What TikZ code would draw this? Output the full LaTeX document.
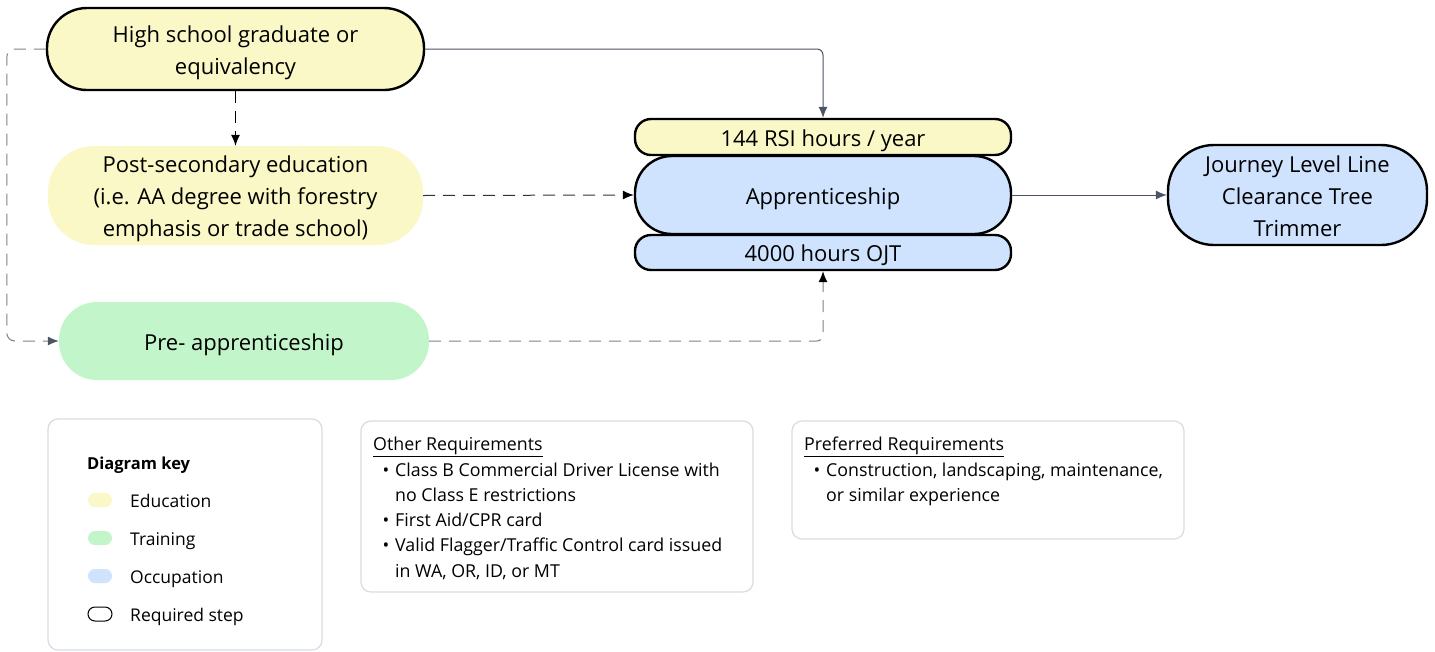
\documentclass[tikz,border=0pt]{standalone}
\usepackage{fontspec}
\setmainfont{Open Sans}
\usetikzlibrary{arrows.meta}
\definecolor{edu}{HTML}{FAF8C6}
\definecolor{trn}{HTML}{C2F5CA}
\definecolor{occ}{HTML}{CFE2FE}
\definecolor{arr}{HTML}{4B5563}
\definecolor{dashlight}{HTML}{7C828C}
\definecolor{keyline}{HTML}{D8DCE2}
\newcommand\bul{\makebox[22pt][r]{\textbullet\hspace{6pt}}}
\newcommand\ind{\hspace*{22pt}}
\newcommand\steplines[1]{\raisebox{-3pt}[\height][\depth]{\begin{tabular}{@{}c@{}}#1\end{tabular}}}
\begin{document}
\begin{tikzpicture}[x=1pt,y=-1pt,
  stepnode/.style={inner sep=0pt, align=center, font=\fontsize{22}{32}\selectfont},
  req/.style={stepnode, draw=black, line width=2.4pt},
  solidarrow/.style={draw=arr, line width=1pt, -{Latex[length=11pt,width=9pt]}},
  dasharrow/.style={draw=#1, line width=1pt, dash pattern=on 12pt off 8pt},
  tipblack/.style={-{Latex[length=11pt,width=9pt,fill=black,color=black]}},
  tipgray/.style={-{Latex[length=11pt,width=9pt,fill=arr,color=arr]}},
  keybox/.style={draw=keyline, line width=1.2pt, rounded corners=10pt},
  swatch/.style={minimum width=24pt, minimum height=14pt, inner sep=0pt, rounded corners=7pt},
  keytext/.style={anchor=west, inner sep=0pt, text height=12.5pt, text depth=3.5pt, font=\fontsize{17.5}{20}\selectfont},
  reqtext/.style={anchor=north west, inner sep=0pt, align=left, font=\fontsize{17.8}{25.3}\selectfont}
]
\useasboundingbox (0,0) rectangle (1435,651);
\fill[white] (0,0) rectangle (1435,651);

% main nodes
\node[req, fill=edu, minimum width=377pt, minimum height=82pt, rounded corners=40pt] (hs) at (235.5,49) {\steplines{High school graduate or\\equivalency}};
\node[stepnode, fill=edu, minimum width=375pt, minimum height=99pt, rounded corners=46pt] (ps) at (235.5,195.5) {\steplines{Post-secondary education\\(i.e. AA degree with forestry\\emphasis or trade school)}};
\node[stepnode, fill=trn, minimum width=370pt, minimum height=78pt, rounded corners=38pt] (pa) at (244,341) {\steplines{Pre- apprenticeship}};
\node[req, fill=edu, minimum width=376pt, minimum height=36pt, rounded corners=16pt] (rsi) at (823,137) {\steplines{144 RSI hours / year}};
\node[req, fill=occ, minimum width=376pt, minimum height=78pt, rounded corners=37pt] (app) at (823,195) {\steplines{Apprenticeship}};
\node[req, fill=occ, minimum width=376pt, minimum height=35pt, rounded corners=16pt] (ojt) at (823,252.5) {\steplines{4000 hours OJT}};
\node[req, fill=occ, minimum width=259pt, minimum height=100pt, rounded corners=46pt] (jl) at (1297.5,195) {\steplines{Journey Level Line\\Clearance Tree\\Trimmer}};

% connectors
\draw[solidarrow, rounded corners=6pt] (hs.east) -| (rsi.north);
\draw[dasharrow=black, tipblack] (hs.south) -- (ps.north);
\draw[dasharrow=dashlight, tipgray, rounded corners=8pt] (hs.west) -- ++(-39,0) |- (pa.west);
\draw[dasharrow=black!80, tipblack] (ps.east) -- (app.west);
\draw[dasharrow=dashlight, tipblack, rounded corners=6pt] (pa.east) -| (ojt.south);
\draw[solidarrow] (app.east) -- (jl.west);

% legend
\draw[keybox] (48,419) rectangle (322,650);
\node[keytext, font=\fontsize{16.5}{20}\selectfont\bfseries] (keytitle) at (87,465) {Diagram key};
\node[swatch, fill=edu] (sw1) at (100,500) {};
\node[swatch, fill=trn] (sw2) at (100,538) {};
\node[swatch, fill=occ] (sw3) at (100,576) {};
\node[swatch, draw=black, line width=1pt, fill=white] (sw4) at (100,614) {};
\node[keytext] (k1) at (130,502.5) {Education};
\node[keytext] (k2) at (130,540.5) {Training};
\node[keytext] (k3) at (130,578.5) {Occupation};
\node[keytext] (k4) at (130,616.5) {Required step};

% requirement boxes
\draw[keybox] (361,421) rectangle (753,592);
\node[reqtext] (other) at (373,437) {\underline{Other Requirements}\\
\bul Class B Commercial Driver License with\\
\ind no Class E restrictions\\
\bul First Aid/CPR card\\
\bul Valid Flagger/Traffic Control card issued\\
\ind in WA, OR, ID, or MT};
\draw[keybox] (792,421) rectangle (1184,539);
\node[reqtext] (pref) at (804,437) {\underline{Preferred Requirements}\\
\bul Construction, landscaping, maintenance,\\
\ind or similar experience};
\end{tikzpicture}
\end{document}
